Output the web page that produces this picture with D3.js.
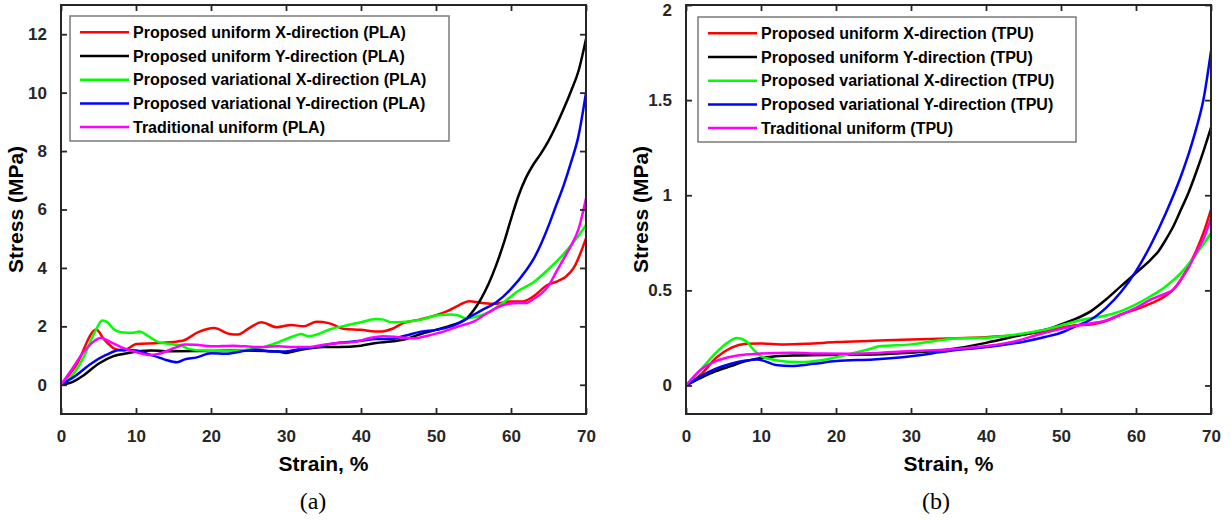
<!DOCTYPE html>
<html>
<head>
<meta charset="utf-8">
<script src="https://cdn.jsdelivr.net/npm/d3@7"></script>
<style>
  html, body { margin: 0; padding: 0; background: #fff; }
  svg { display: block; }
  text { font-family: "Liberation Sans", Arial, Helvetica, sans-serif; }
</style>
</head>
<body>
<svg id="chart" width="1231" height="521"></svg>
<script>
// ---- PLA specimens (panel a) ----
const plaUniXStrain = [0,2,4.7,5.7,7.2,8.3,10.1,13,16.2,18.3,20.4,22.5,23.6,25.1,26.7,28.8,30.7,32.3,34.1,35.7,37.8,39.9,42.5,44.1,45.7,47.8,49.9,51.5,53.1,54.4,56.2,57.8,59.9,61.5,63.1,64.7,66.3,67.3,68.4,70];
const plaUniXStress = [0,0.66,1.89,1.57,1.23,1.17,1.40,1.43,1.51,1.80,1.94,1.74,1.72,1.94,2.14,1.97,2.05,2.00,2.16,2.11,1.91,1.88,1.82,1.91,2.12,2.23,2.37,2.52,2.73,2.86,2.80,2.77,2.85,2.85,3.05,3.39,3.56,3.70,4.02,5.01];

const plaUniYStrain = [0,1.5,3,5,7,9,12,15,20,25,29,30,32,35,37,40,42,44,46,48,50,52,54,55,56,57,58,59,60,61,62,63,64,65,66,67,68,69,70];
const plaUniYStress = [0,0.09,0.32,0.72,0.98,1.09,1.17,1.15,1.16,1.17,1.14,1.09,1.20,1.29,1.29,1.34,1.43,1.48,1.57,1.74,1.88,2.03,2.25,2.54,2.94,3.45,4.08,4.82,5.67,6.47,7.09,7.55,7.92,8.35,8.86,9.43,10.05,10.74,11.84];

const plaVarXStrain = [0,1.5,3,4.5,5.5,6.2,7,8,9.5,10.5,11.5,13,15,16,17,19,22,25,27,29,31,32,33,34,36,38,40,42,43,44,46,48,50,52,53,54,55,57,59,61,63,65,67,69,70];
const plaVarXStress = [0,0.32,0.94,1.80,2.20,2.14,1.91,1.80,1.78,1.82,1.69,1.46,1.38,1.34,1.23,1.17,1.15,1.21,1.29,1.46,1.66,1.74,1.66,1.71,1.91,2.03,2.14,2.25,2.23,2.14,2.16,2.23,2.37,2.41,2.37,2.28,2.31,2.48,2.82,3.22,3.51,3.96,4.47,5.10,5.47];

const plaVarYStrain = [0,2,4,6,8,10,12,13,14,15.5,16.5,18,20,22,24,26,28,30,32,34,36,38,40,42,44,46,48,50,52,54,56,58,60,62,63,64,65,66,67,68,69,70];
const plaVarYStress = [0,0.32,0.72,1.02,1.20,1.17,1.02,0.94,0.85,0.77,0.87,0.93,1.08,1.06,1.14,1.20,1.14,1.14,1.23,1.29,1.40,1.46,1.51,1.57,1.57,1.69,1.82,1.88,2.00,2.25,2.54,2.82,3.28,3.91,4.30,4.82,5.44,6.13,6.81,7.61,8.52,10.0];

const plaTradStrain = [0,1.5,3,4.5,5.3,6.5,8,10,12,13,15,16.5,18,20,23,26,29,31,33,35,37,39,41,43,45,47,49,51,53,55,57,59,61,62,63,64,65,66,67,68,69,70];
const plaTradStress = [0,0.55,1.12,1.51,1.61,1.48,1.29,1.12,1.02,1.06,1.25,1.38,1.37,1.32,1.34,1.29,1.32,1.29,1.29,1.37,1.43,1.46,1.59,1.66,1.63,1.59,1.69,1.82,2.00,2.16,2.48,2.73,2.80,2.80,2.94,3.11,3.39,3.85,4.30,4.76,5.33,6.38];

// ---- TPU specimens (panel b) ----
const tpuUniXStrain = [0,2,4,6,8,10,13,16,20,25,30,35,40,45,48,50,52,54,56,58,60,62,64,65,66,67,68,69,70];
const tpuUniXStress = [0,0.058,0.145,0.198,0.219,0.221,0.216,0.219,0.228,0.235,0.242,0.247,0.254,0.268,0.286,0.303,0.316,0.321,0.338,0.373,0.400,0.431,0.473,0.505,0.557,0.627,0.706,0.803,0.925];

const tpuUniYStrain = [0,2,4,6,8,10,12,15,20,25,30,35,40,45,48,50,52,54,56,58,60,62,63,64,65,66,67,68,69,70];
const tpuUniYStress = [0,0.040,0.075,0.102,0.128,0.145,0.154,0.158,0.161,0.163,0.172,0.189,0.224,0.268,0.294,0.321,0.351,0.391,0.452,0.522,0.592,0.663,0.706,0.768,0.838,0.925,1.013,1.118,1.232,1.355];

const tpuVarXStrain = [0,2,4,5.5,6.8,8,9,10,12,15,18,21,24,26,30,33,36,40,43,46,48,50,53,56,58,60,62,64,66,68,70];
const tpuVarXStress = [0,0.084,0.172,0.224,0.249,0.233,0.189,0.154,0.133,0.123,0.133,0.158,0.186,0.207,0.216,0.233,0.247,0.251,0.263,0.280,0.294,0.316,0.347,0.368,0.391,0.426,0.470,0.522,0.592,0.689,0.80];

const tpuVarYStrain = [0,2,4,6,8,9.5,10.5,12,14,17,20,25,30,35,40,45,48,50,52,54,56,58,60,62,64,66,67,68,69,70];
const tpuVarYStress = [0,0.049,0.088,0.114,0.131,0.137,0.128,0.107,0.102,0.114,0.128,0.137,0.154,0.181,0.202,0.230,0.256,0.277,0.312,0.347,0.408,0.491,0.601,0.741,0.908,1.101,1.215,1.346,1.504,1.757];

const tpuTradStrain = [0,2,4,6,8,10,14,18,22,26,30,35,40,44,47,50,53,56,58,60,62,64,65,66,67,68,69,70];
const tpuTradStress = [0,0.084,0.128,0.151,0.163,0.168,0.172,0.168,0.167,0.172,0.181,0.189,0.207,0.233,0.268,0.298,0.321,0.342,0.373,0.408,0.452,0.484,0.505,0.557,0.618,0.697,0.771,0.88];

// ---- labels, colours, ticks ----
const seriesColors = ["#ff0000", "#000000", "#00ff00", "#0000ff", "#ff00ff"];
const plaNames = [
  "Proposed uniform X-direction (PLA)",
  "Proposed uniform Y-direction (PLA)",
  "Proposed variational X-direction (PLA)",
  "Proposed variational Y-direction (PLA)",
  "Traditional uniform (PLA)"
];
const tpuNames = [
  "Proposed uniform X-direction (TPU)",
  "Proposed uniform Y-direction (TPU)",
  "Proposed variational X-direction (TPU)",
  "Proposed variational Y-direction (TPU)",
  "Traditional uniform (TPU)"
];
const strainTicks = [0, 10, 20, 30, 40, 50, 60, 70];
const plaStressTicks = [0, 2, 4, 6, 8, 10, 12];
const tpuStressTicks = [0, 0.5, 1, 1.5, 2];
const xTitle = "Strain, %";
const yTitle = "Stress (MPa)";

function zipSeries(xs, ys) { return xs.map((x, i) => [x, ys[i]]); }

const plaSeries = [
  zipSeries(plaUniXStrain, plaUniXStress),
  zipSeries(plaUniYStrain, plaUniYStress),
  zipSeries(plaVarXStrain, plaVarXStress),
  zipSeries(plaVarYStrain, plaVarYStress),
  zipSeries(plaTradStrain, plaTradStress)
];
const tpuSeries = [
  zipSeries(tpuUniXStrain, tpuUniXStress),
  zipSeries(tpuUniYStrain, tpuUniYStress),
  zipSeries(tpuVarXStrain, tpuVarXStress),
  zipSeries(tpuVarYStrain, tpuVarYStress),
  zipSeries(tpuTradStrain, tpuTradStress)
];

const svg = d3.select("#chart");
const axisColor = "#262626";

function drawPanel(opt) {
  const { left, right, top, bottom, yDomain, yTicks, series, names, legend, caption, id, tickFmt } = opt;
  const x = d3.scaleLinear().domain([0, 70]).range([left, right]);
  const y = d3.scaleLinear().domain(yDomain).range([bottom, top]);
  const g = svg.append("g");

  g.append("clipPath").attr("id", id)
    .append("rect").attr("x", left).attr("y", top)
    .attr("width", right - left).attr("height", bottom - top);

  // curves
  const line = d3.line().x(d => x(d[0])).y(d => y(d[1])).curve(d3.curveMonotoneX);
  const curves = g.append("g").attr("clip-path", `url(#${id})`);
  series.forEach((s, i) => {
    curves.append("path").datum(s)
      .attr("d", line)
      .attr("fill", "none")
      .attr("stroke", seriesColors[i])
      .attr("stroke-width", 2.5)
      .attr("stroke-linejoin", "round")
      .attr("stroke-linecap", "round");
  });

  const tickLen = 6;
  const fontTick = "bold 17px 'Liberation Sans', Arial, sans-serif";

  // bottom axis with labels, inward ticks
  const xAxis = d3.axisBottom(x).tickValues(strainTicks).tickSizeInner(-tickLen).tickSizeOuter(0).tickPadding(16);
  const gx = g.append("g").attr("transform", `translate(0,${bottom})`).call(xAxis);
  // top mirror ticks
  const gxt = g.append("g").attr("transform", `translate(0,${top})`)
    .call(d3.axisTop(x).tickValues(strainTicks).tickSizeInner(-tickLen).tickSizeOuter(0).tickFormat(""));
  // left axis with labels
  const yAxis = d3.axisLeft(y).tickValues(yTicks).tickSizeInner(-tickLen).tickSizeOuter(0).tickPadding(14).tickFormat(tickFmt);
  const gy = g.append("g").attr("transform", `translate(${left},0)`).call(yAxis);
  // right mirror ticks
  const gyr = g.append("g").attr("transform", `translate(${right},0)`)
    .call(d3.axisRight(y).tickValues(yTicks).tickSizeInner(-tickLen).tickSizeOuter(0).tickFormat(""));

  [gx, gxt, gy, gyr].forEach(a => {
    a.select(".domain").remove();
    a.selectAll(".tick line").attr("stroke", axisColor).attr("stroke-width", 1.8);
    a.selectAll(".tick text").style("font", fontTick).attr("fill", axisColor);
  });

  // keep a label that sits on the top edge inside the canvas
  gy.selectAll(".tick text").attr("dy", function(d) {
    return y(d) - top < 4 ? "0.62em" : "0.32em";
  });

  // axes box
  g.append("rect").attr("x", left).attr("y", top)
    .attr("width", right - left).attr("height", bottom - top)
    .attr("fill", "none").attr("stroke", axisColor).attr("stroke-width", 2);

  // axis titles
  g.append("text").attr("x", (left + right) / 2).attr("y", 471)
    .attr("text-anchor", "middle")
    .style("font", "bold 21px 'Liberation Sans', Arial, sans-serif")
    .attr("fill", "#000").text(xTitle);
  g.append("text")
    .attr("transform", `translate(${left - 38},${(top + bottom) / 2}) rotate(-90)`)
    .attr("text-anchor", "middle")
    .style("font", "bold 21px 'Liberation Sans', Arial, sans-serif")
    .attr("fill", "#000").text(yTitle);

  // panel caption
  g.append("text").attr("x", caption.x).attr("y", 509)
    .attr("text-anchor", "middle")
    .style("font", "24px 'Liberation Serif', 'Times New Roman', serif")
    .attr("fill", "#000").text(caption.text);

  // legend
  const lg = g.append("g");
  lg.append("rect").attr("x", legend.x).attr("y", legend.y)
    .attr("width", legend.w).attr("height", legend.h)
    .attr("fill", "#fff").attr("stroke", "#7a7a7a").attr("stroke-width", 1.5);
  names.forEach((name, i) => {
    const cy = legend.y + 16.3 + i * 23.7;
    lg.append("line")
      .attr("x1", legend.x + 10).attr("x2", legend.x + 59)
      .attr("y1", cy).attr("y2", cy)
      .attr("stroke", seriesColors[i]).attr("stroke-width", 2.5);
    lg.append("text").attr("x", legend.x + 63).attr("y", cy)
      .attr("dy", "0.36em")
      .style("font", "bold 16px 'Liberation Sans', Arial, sans-serif")
      .attr("fill", "#000").text(name);
  });
}

drawPanel({
  id: "clip-pla", left: 61, right: 586, top: 5, bottom: 414,
  yDomain: [-1, 13], yTicks: plaStressTicks, series: plaSeries, names: plaNames,
  tickFmt: d3.format("d"),
  legend: { x: 70, y: 16, w: 379, h: 125 },
  caption: { x: 313, text: "(a)" }
});
drawPanel({
  id: "clip-tpu", left: 686, right: 1211, top: 5, bottom: 414,
  yDomain: [-0.15, 2], yTicks: tpuStressTicks, series: tpuSeries, names: tpuNames,
  tickFmt: d => String(d),
  legend: { x: 698, y: 17, w: 378, h: 125 },
  caption: { x: 936, text: "(b)" }
});
</script>
</body>
</html>
